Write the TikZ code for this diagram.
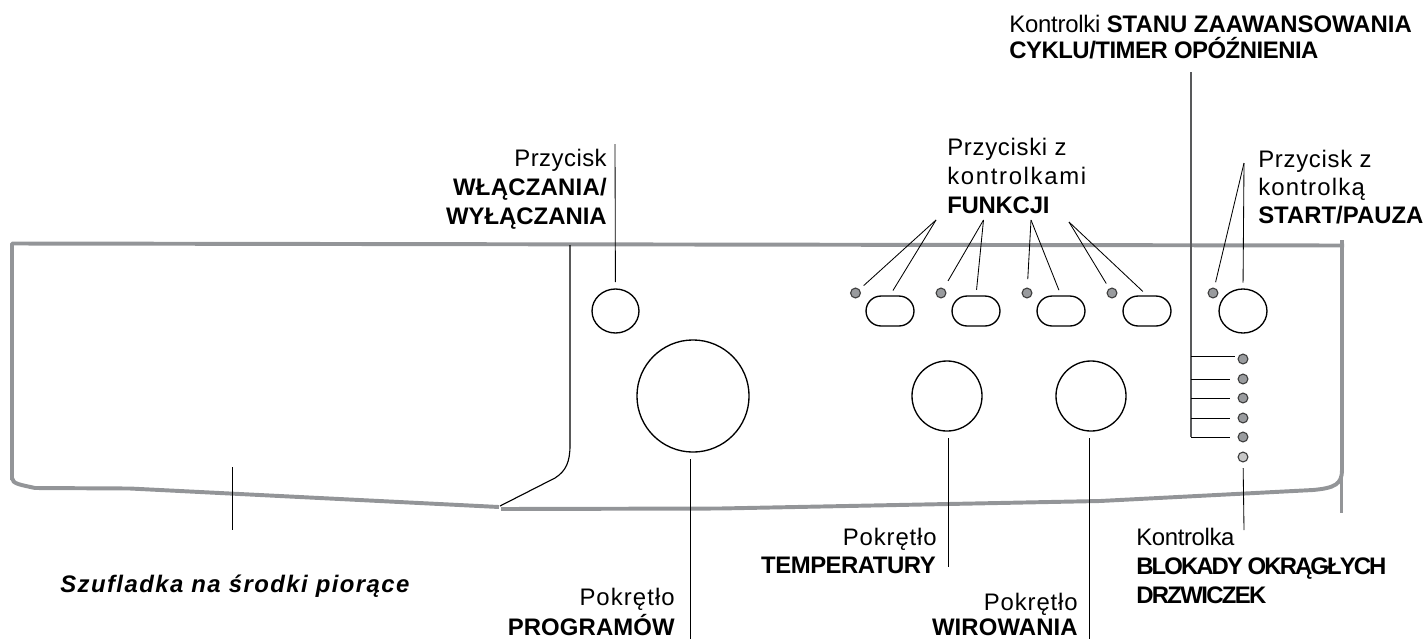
\documentclass[tikz,border=0pt]{standalone}
\usepackage{fontspec}
\setmainfont{Liberation Sans}
\usetikzlibrary{shapes.geometric,shapes.misc}
\definecolor{panelgray}{HTML}{939598}
\definecolor{bargray}{HTML}{58595B}
\definecolor{ledgray}{HTML}{999B9E}
\tikzset{
  panel/.style={draw=panelgray,line width=2.8pt,line join=round},
  leader/.style={draw=black,line width=0.6pt},
  knob/.style={draw=black,line width=0.95pt,fill=white,ellipse,inner sep=0pt},
  pill/.style={draw=black,line width=0.95pt,fill=white,rounded rectangle,minimum width=34.1pt,minimum height=21.3pt,inner sep=0pt},
  led/.style={draw=black!75,line width=0.8pt,fill=ledgray,circle,minimum size=7pt,inner sep=0pt},
  lbl/.style={inner sep=0pt,font=\fontsize{17}{21}\selectfont\addfontfeature{LetterSpace=#1}},
  lbl/.default=0,
  boldlbl/.style={inner sep=0pt,font=\fontsize{17}{21}\selectfont\bfseries\addfontfeature{LetterSpace=#1}},
  boldlbl/.default=0,
}
\begin{document}
\begin{tikzpicture}[x=0.025cm,y=-0.025cm]
\useasboundingbox (0,0) rectangle (1426,639);
\draw[panel] (12,480) -- (12,243.5) -- (1344,245.5);
\draw[panel] (12,478) .. controls (12,484) and (22,485) .. (35,488) -- (130,488.5) -- (499,507);
\draw[panel] (501,509) -- (720,508.5) -- (1100,501) -- (1313,490) .. controls (1335,488) and (1342,484) .. (1342,470) -- (1342,240);
\draw[draw=panelgray,line width=1.6pt] (1341.5,470) -- (1341.5,513);
\draw[line width=0.8pt] (570,245) -- (570,445) .. controls (570,462) and (566,471) .. (555,478) -- (500,506);

\node[knob,minimum width=33.4pt,minimum height=31.3pt] (powerbtn) at (615.5,311) {};
\node[knob,minimum width=79.7pt,minimum height=79.7pt] (progknob) at (693,396) {};
\node[knob,minimum width=49.8pt,minimum height=49.8pt] (tempknob) at (947,396) {};
\node[knob,minimum width=49.8pt,minimum height=49.8pt] (spinknob) at (1091,396) {};
\node[knob,minimum width=34.1pt,minimum height=31.3pt] (startbtn) at (1243,311) {};

\node[pill] (func1) at (890,311) {};
\node[pill] (func2) at (976,311) {};
\node[pill] (func3) at (1061,311) {};
\node[pill] (func4) at (1147,311) {};
\node[led] (funcled1) at (855.5,293) {};
\node[led] (funcled2) at (941,293) {};
\node[led] (funcled3) at (1027,293) {};
\node[led] (funcled4) at (1112,293) {};
\node[led] (startled) at (1213,293) {};

\node[led] (phase1) at (1243,359) {};
\node[led] (phase2) at (1243,379) {};
\node[led] (phase3) at (1243,398) {};
\node[led] (phase4) at (1243,418) {};
\node[led] (phase5) at (1243,437) {};
\node[led,fill=black!22] (lockled) at (1243,457) {};

\node[lbl=2,anchor=base east] (powerlbl) at (607,166) {Przycisk};
\node[boldlbl=1,anchor=base east] (powerlblb) at (607,195) {WŁĄCZANIA/};
\node[boldlbl,anchor=base east] (powerlblc) at (607,224) {WYŁĄCZANIA};
\node[lbl=3,anchor=base west] (funclbl) at (947,155) {Przyciski z};
\node[lbl=7,anchor=base west] (funclblb) at (947,184) {kontrolkami};
\node[boldlbl=-1,anchor=base west] (funclblc) at (947,213) {FUNKCJI};
\node[lbl=3,anchor=base west] (startlbl) at (1258,167) {Przycisk z};
\node[lbl=5,anchor=base west] (startlblb) at (1258,195) {kontrolką};
\node[boldlbl,anchor=base west] (startlblc) at (1258,223) {START/PAUZA};
\node[lbl=-1,anchor=base west] (phaselbl) at (1009,32) {Kontrolki {\bfseries\addfontfeature{LetterSpace=0}STANU ZAAWANSOWANIA}};
\node[boldlbl=-2,anchor=base west] (phaselblb) at (1009,58) {CYKLU/TIMER OPÓŹNIENIA};
\node[lbl=3.7,anchor=base east] (templbl) at (937,545) {Pokrętło};
\node[boldlbl=-2,anchor=base east] (templblb) at (936,573) {TEMPERATURY};
\node[lbl=4.5,anchor=base east] (proglbl) at (675,605) {Pokrętło};
\node[boldlbl=0.5,anchor=base east] (proglblb) at (675,635) {PROGRAMÓW};
\node[lbl=3.7,anchor=base east] (spinlbl) at (1078,610) {Pokrętło};
\node[boldlbl=0.5,anchor=base east] (spinlblb) at (1078,635.5) {WIROWANIA};
\node[lbl=-1.5,anchor=base west] (locklbl) at (1136,545) {Kontrolka};
\node[boldlbl=-8,anchor=base west] (locklblb) at (1136,574) {BLOKADY OKRĄGŁYCH};
\node[boldlbl=-7,anchor=base west] (locklblc) at (1136,603) {DRZWICZEK};
\node[lbl,anchor=base west] (drawerlbl) at (60,592) {\bfseries\itshape\addfontfeature{LetterSpace=6}Szufladka na środki piorące};

\coordinate (powertop) at (615,144);
\coordinate (drawertop) at (232,467);
\coordinate (drawerend) at (232,530);
\coordinate (progend) at (690,639);
\coordinate (tempend) at (948,567);
\coordinate (spinend) at (1089,639);
\coordinate (lockend) at (1244,530);
\coordinate (bartop) at (1191,72);
\coordinate (phasetick) at (1235,356);
\coordinate (apexa) at (936,220);
\coordinate (apexb) at (983.5,220);
\coordinate (apexc) at (1031,220);
\coordinate (apexd) at (1069,222);
\coordinate (apexe) at (1244,163);

\draw[leader,shorten >=4.5pt] (powertop) -- (powerbtn);
\draw[leader] (drawertop) -- (drawerend);
\draw[leader,shorten <=4.5pt] (progend|-progknob.south) -- (progend);
\draw[leader,shorten <=4.5pt] (tempend|-tempknob.south) -- (tempend);
\draw[leader,shorten <=4.5pt] (spinend|-spinknob.south) -- (spinend);
\draw[leader,shorten <=4pt] (lockled) -- (lockend);
\draw[leader,shorten >=4pt] (apexa) -- (func1.north);
\draw[leader,shorten >=4pt] (apexb) -- (func2.north);
\draw[leader,shorten >=4pt] (apexc) -- (func3.north);
\draw[leader,shorten >=4pt] (apexd) -- (func4.north);
\draw[leader,shorten >=4pt] (apexa) -- (funcled1);
\draw[leader,shorten >=6pt] (apexb) -- (funcled2);
\draw[leader,shorten >=6pt] (apexc) -- (funcled3);
\draw[leader,shorten >=4pt] (apexd) -- (funcled4);
\draw[leader,shorten >=4pt] (apexe) -- (startled);
\draw[leader,shorten >=4pt] (apexe) -- (startbtn.north);
\draw[draw=bargray,line width=0.8pt] (bartop) -- (bartop|-phase5);
\draw[leader] (bartop|-phasetick) -- (phasetick);
\foreach \i in {2,...,5}
  \draw[leader,shorten >=5.7pt] (bartop|-phase\i) -- (phase\i);
\end{tikzpicture}
\end{document}
